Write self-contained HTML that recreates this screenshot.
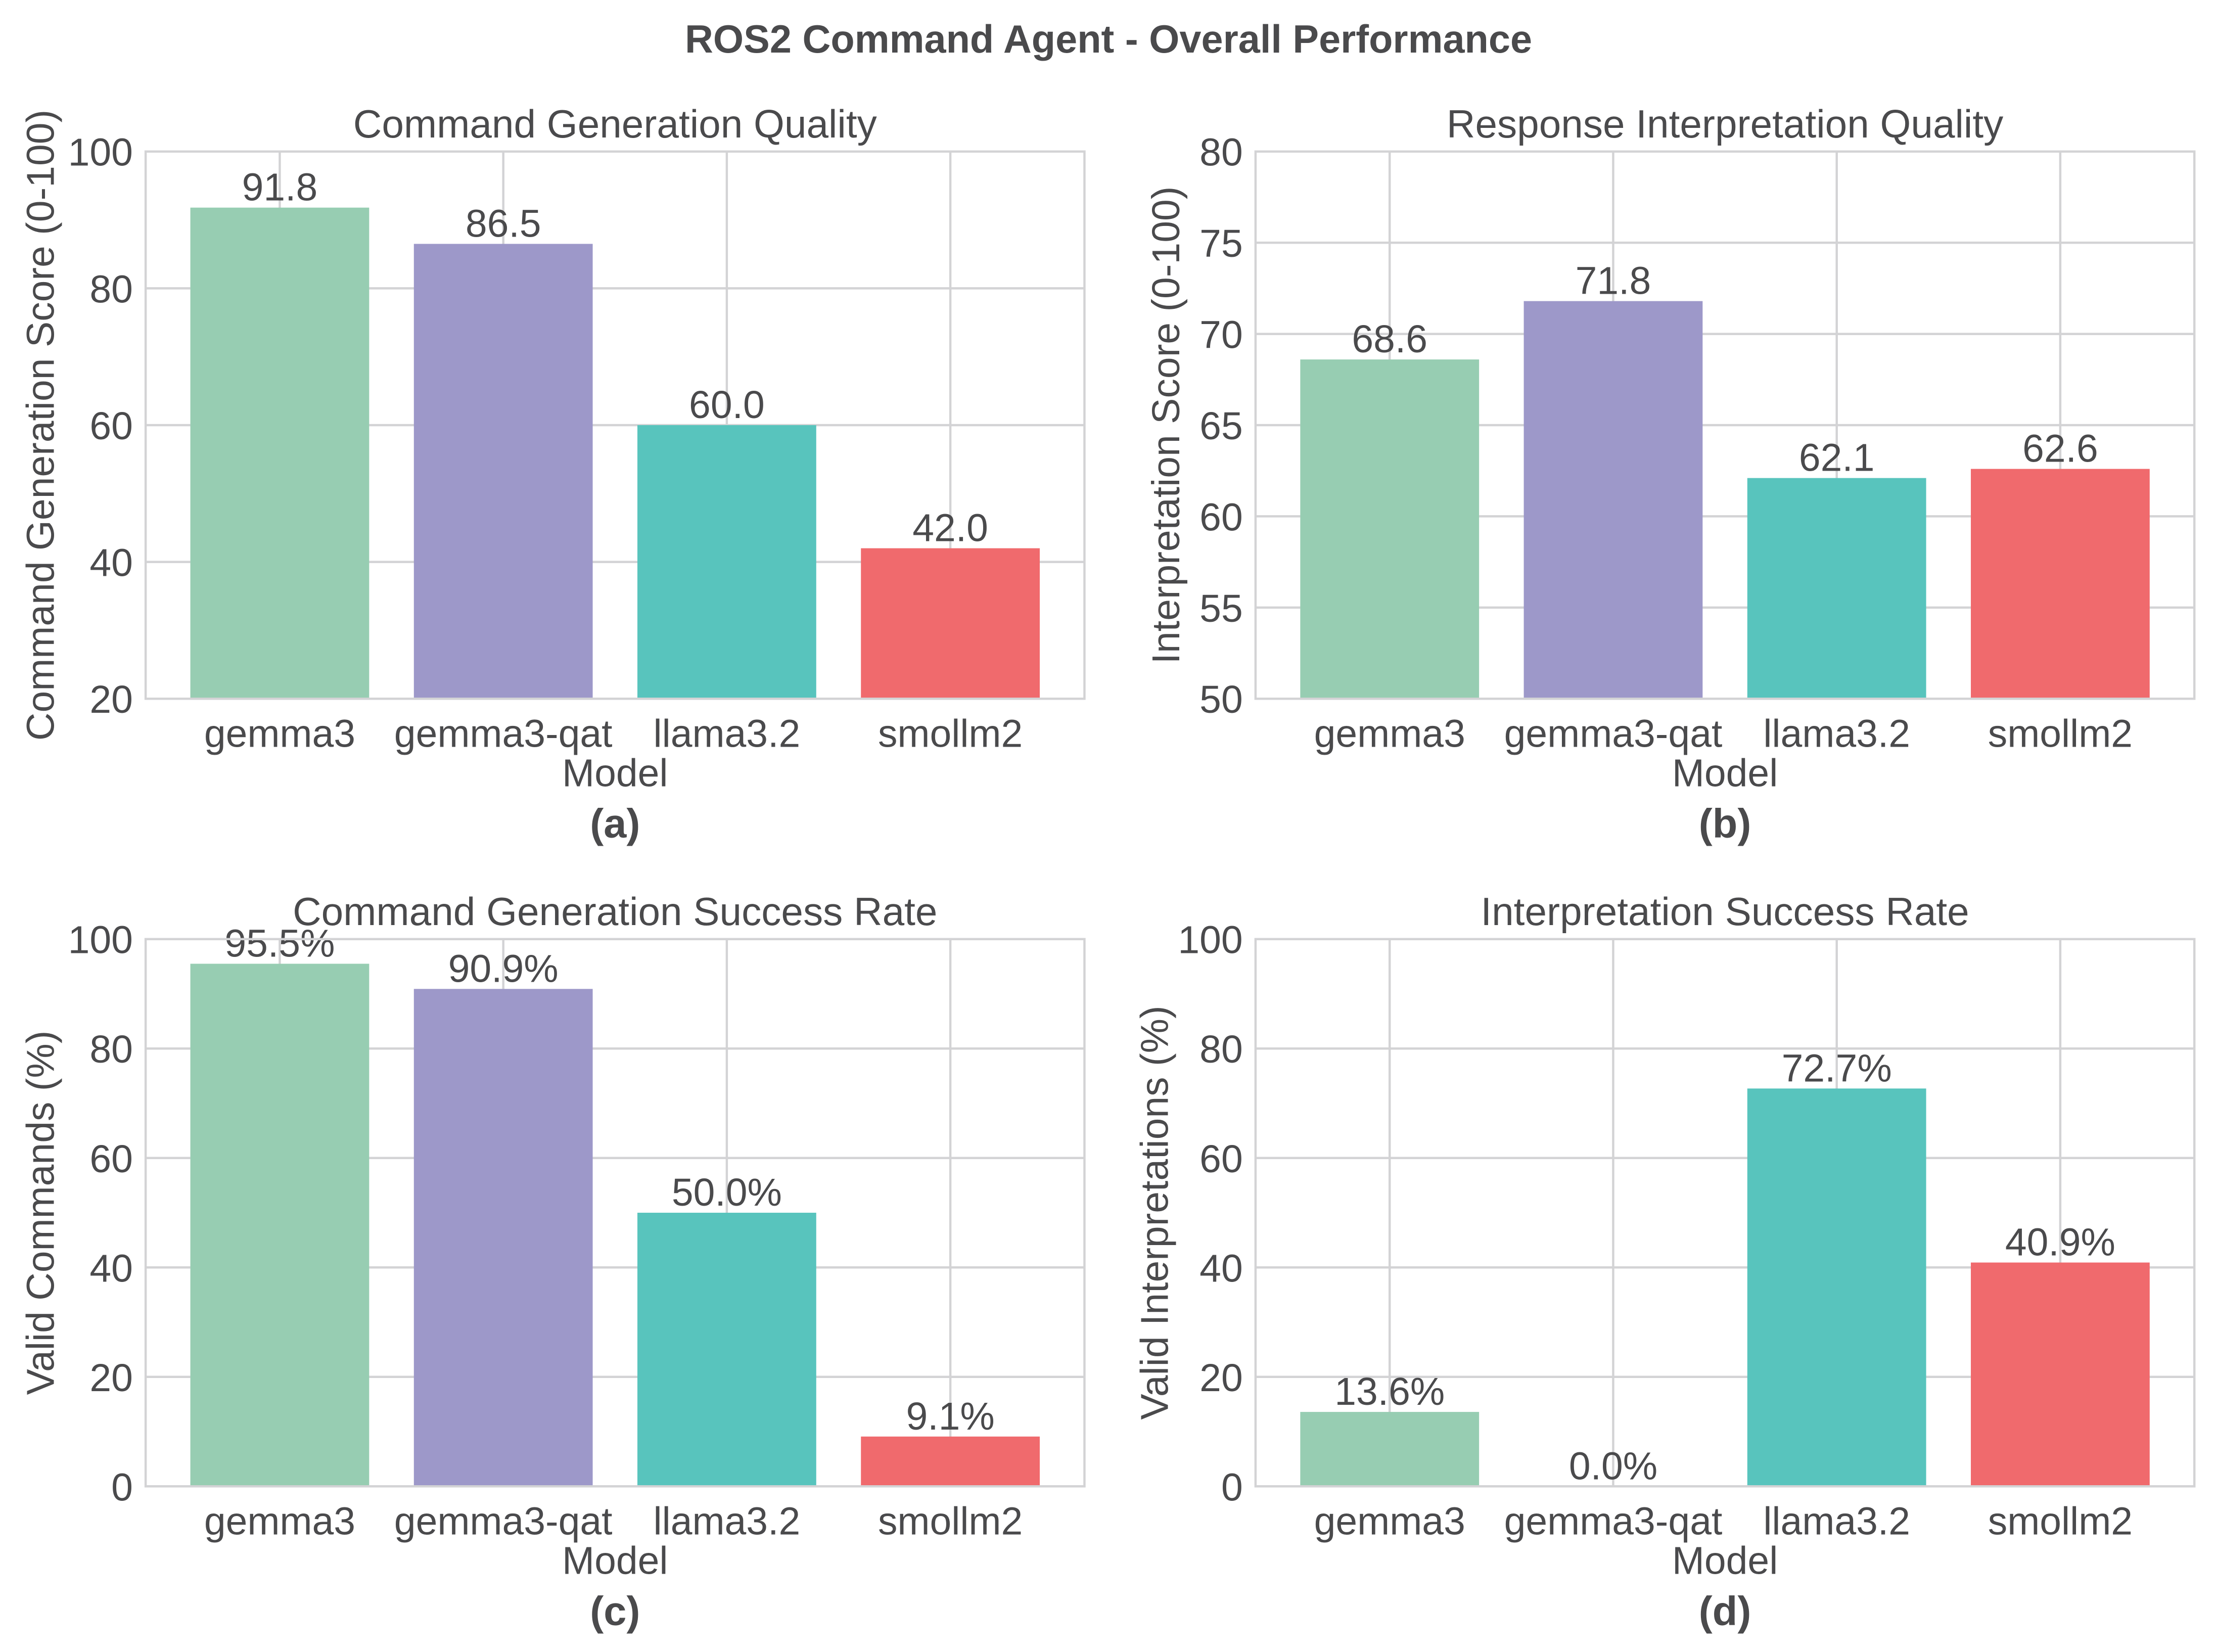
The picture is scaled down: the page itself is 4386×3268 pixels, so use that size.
<!DOCTYPE html>
<html><head><meta charset="utf-8"><style>
html,body{margin:0;padding:0;background:#fff}
svg{display:block}
text{font-family:"Liberation Sans",Arial,sans-serif;fill:#4a4a4c}
</style></head><body>
<svg id="fig" width="4386" height="3268" viewBox="0 0 1568 1168" xmlns="http://www.w3.org/2000/svg">
<rect width="1568" height="1168" fill="#fff"/>
<text x="784" y="37" text-anchor="middle" font-size="27.7" font-weight="bold">ROS2 Command Agent - Overall Performance</text>
</svg>
<script>
const categories = ["gemma3","gemma3-qat","llama3.2","smollm2"];
const colors = ["#97cdb2","#9d98c9","#58c4bd","#f06a6d"];
const genQuality = [91.8, 86.5, 60.0, 42.0];
const interpQuality = [68.6, 71.8, 62.1, 62.6];
const genSuccess = [95.5, 90.9, 50.0, 9.1];
const interpSuccess = [13.6, 0.0, 72.7, 40.9];
const ticksA = [20,40,60,80,100];
const ticksB = [50,55,60,65,70,75,80];
const ticksC = [0,20,40,60,80,100];
const ticksD = [0,20,40,60,80,100];

const NS = "http://www.w3.org/2000/svg";
const svg = document.getElementById('fig');
const FS = 27.5;
function mk(tag, attrs, parent){
  const e = document.createElementNS(NS, tag);
  for (const k in attrs) e.setAttribute(k, attrs[k]);
  (parent||svg).appendChild(e);
  return e;
}
function panel(cfg){
  const g = mk('g', {});
  
  
  const {L,R,T,B,ymin,ymax} = cfg;
  const unit = (R-L)/4.2;
  const xc = i => L + (0.6 + i)*unit;
  const y = v => B - (v - ymin)/(ymax - ymin)*(B - T);
  cfg.ticks.forEach(t=>{
    const l = mk('line', {x1:L, x2:R, y1:y(t), y2:y(t), stroke:'#d3d3d5', 'stroke-width':1.6}, g);
    
    
    const tx = mk('text', {x:L-9, y:y(t)+10, 'text-anchor':'end', 'font-size':FS}, g);
    tx.textContent = t;
    
    
  });
  categories.forEach((c,i)=>{
    const l = mk('line', {x1:xc(i), x2:xc(i), y1:T, y2:B, stroke:'#d3d3d5', 'stroke-width':1.6}, g);
    
    
  });
  cfg.values.forEach((v,i)=>{
    const top = y(Math.max(v, ymin));
    const bw = 0.8*unit;
    const r = mk('rect', {x:xc(i)-bw/2, y:top, width:bw, height:Math.max(0,B-top), fill:colors[i]}, g);
    
    
    const lb = mk('text', {x:xc(i), y:top-5, 'text-anchor':'middle', 'font-size':FS}, g);
    lb.textContent = v.toFixed(1) + cfg.suffix;
    
    
    const xt = mk('text', {x:xc(i), y:B+34, 'text-anchor':'middle', 'font-size':FS}, g);
    xt.textContent = categories[i];
    
    
  });
  const fr = mk('rect', {x:L, y:T, width:R-L, height:B-T, fill:'none', stroke:'#d3d3d5', 'stroke-width':1.6}, g);
  
  
  const ti = mk('text', {x:(L+R)/2, y:T-10, 'text-anchor':'middle', 'font-size':28}, g);
  ti.textContent = cfg.title;
  
  
  const xl = mk('text', {x:(L+R)/2, y:B+62, 'text-anchor':'middle', 'font-size':FS}, g);
  xl.textContent = 'Model';
  
  
  const pl = mk('text', {x:(L+R)/2, y:B+98, 'text-anchor':'middle', 'font-size':29, 'font-weight':'bold'}, g);
  pl.textContent = cfg.label;
  
  
  const yx = cfg.ylx, yy = (T+B)/2;
  const yl = mk('text', {x:yx, y:yy, 'text-anchor':'middle', 'font-size':FS, transform:`rotate(-90 ${yx} ${yy})`}, g);
  yl.textContent = cfg.ylabel;
  
  
}
panel({name:'panel-a', L:103,R:767,T:107,B:494,ymin:20,ymax:100,ticks:ticksA,values:genQuality,suffix:'',title:'Command Generation Quality',label:'(a)',ylabel:'Command Generation Score (0-100)',ylx:38});
panel({name:'panel-b', L:888,R:1552,T:107,B:494,ymin:50,ymax:80,ticks:ticksB,values:interpQuality,suffix:'',title:'Response Interpretation Quality',label:'(b)',ylabel:'Interpretation Score (0-100)',ylx:834});
panel({name:'panel-c', L:103,R:767,T:664,B:1051,ymin:0,ymax:100,ticks:ticksC,values:genSuccess,suffix:'%',title:'Command Generation Success Rate',label:'(c)',ylabel:'Valid Commands (%)',ylx:38});
panel({name:'panel-d', L:888,R:1552,T:664,B:1051,ymin:0,ymax:100,ticks:ticksD,values:interpSuccess,suffix:'%',title:'Interpretation Success Rate',label:'(d)',ylabel:'Valid Interpretations (%)',ylx:826});
</script>
</body></html>
